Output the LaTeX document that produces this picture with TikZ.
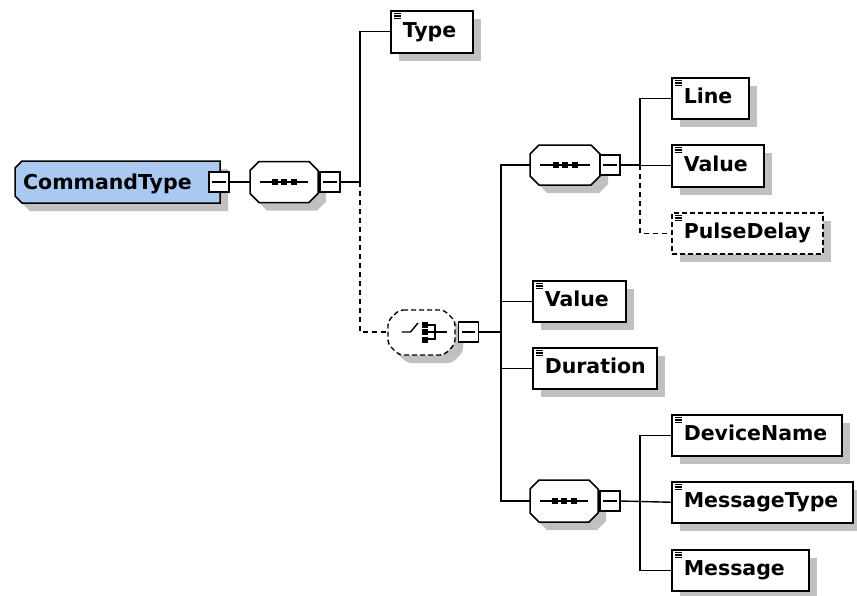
\documentclass[tikz,border=0pt]{standalone}
\usepackage{fontspec}
\setmainfont{DejaVu Sans}
\usetikzlibrary{shadows}
\definecolor{cmdblue}{RGB}{170,201,241}
\definecolor{shadowgray}{RGB}{192,192,192}
\newcommand\lblfont{\fontsize{20.5}{21}\selectfont\bfseries}
\tikzset{
  x=1pt,y=-1pt,
  shad/.style={drop shadow={shadow xshift=8pt,shadow yshift=-8pt,fill=shadowgray,opacity=1}},
  elembox/.style={draw,line width=1.5pt,fill=white,anchor=north west,font=\lblfont,
    align=left,inner xsep=12pt,inner ysep=0pt,text height=15.5pt,text depth=4.5pt,shad},
  conn/.style={line width=1.4pt},
  dconn/.style={line width=1.4pt,dash pattern=on 5pt off 4pt},
  dashbox/.style={dash pattern=on 5pt off 3pt},
  minusbox/.style={draw,line width=1.5pt,fill=white,minimum size=20pt,inner sep=0pt},
  anchorbox/.style={draw=none,fill=none,inner sep=0pt,outer sep=0pt},
  outline/.style={line width=1.5pt},
  icon/.style={line width=1.3pt}
}
% octagon outline: x1,y1,x2,y2,chamfer
\newcommand\octpath[5]{(#1+#5,#2) -- (#3-#5,#2) -- (#3,#2+#5) -- (#3,#4-#5) -- (#3-#5,#4) -- (#1+#5,#4) -- (#1,#4-#5) -- (#1,#2+#5) -- cycle}
% left-chamfered outline
\newcommand\lchampath[5]{(#1+#5,#2) -- (#3,#2) -- (#3,#4) -- (#1+#5,#4) -- (#1,#4-#5) -- (#1,#2+#5) -- cycle}
\newcommand\seqsym[1]{%
  \draw[conn] ([xshift=10pt]#1.west) -- ([xshift=-10pt]#1.east);
  \foreach \dx in {-9.5,0,9.5}{\fill ([xshift=\dx pt]#1.center) +(-3,-3) rectangle +(3,3);}
}
\newcommand\minussym[1]{\draw[conn] ([xshift=4pt]#1.west) -- ([xshift=-4pt]#1.east);}
\newcommand\elemicon[1]{%
  \foreach \dy in {3.5,6,8.5}{\draw[icon] ([xshift=3.5pt,yshift=-\dy pt]#1.north west) -- ++(7pt,0pt);}
}
\begin{document}
\begin{tikzpicture}
\useasboundingbox[fill=white] (0,0) rectangle (857,595);

% ---------- shadows of compositors and root
\fill[shadowgray,xshift=8pt,yshift=-8pt] \lchampath{15}{161}{220}{203}{7};
\fill[shadowgray,xshift=8pt,yshift=-8pt] \octpath{250}{161.5}{318}{202.5}{9};
\fill[shadowgray,xshift=8pt,yshift=-8pt] \octpath{530}{145}{600}{185}{9};
\fill[shadowgray,xshift=8pt,yshift=-8pt] \octpath{530}{480}{598}{522}{9};
\fill[shadowgray,xshift=8pt,yshift=-8pt,rounded corners=4pt] \octpath{388}{310}{455}{355}{11};

% ---------- root
\filldraw[outline,fill=cmdblue] \lchampath{15}{161}{220}{203}{7};
\node[anchorbox,minimum width=205pt,minimum height=42pt] (cmd) at (117.5,182) {};
\node[anchor=base west,font=\lblfont,inner sep=0pt] (cmdtext) at (23,189) {CommandType};
\node[minusbox] (cmdm) at (219,182) {};
\minussym{cmdm}

% ---------- sequence 1
\filldraw[outline,fill=white] \octpath{250}{161.5}{318}{202.5}{9};
\node[anchorbox,minimum width=68pt,minimum height=41pt] (seq1) at (284,182) {};
\seqsym{seq1}
\node[minusbox] (seq1m) at (330,182) {};
\minussym{seq1m}
\coordinate (j1) at (360,182);

% ---------- Type
\node[elembox,minimum width=82pt,minimum height=42pt,text width=58pt] (type) at (390,10) {Type};
\elemicon{type}

% ---------- choice
\filldraw[outline,fill=white,dashbox,line width=1.4pt,rounded corners=4pt] \octpath{388}{310}{455}{355}{11};
\node[anchorbox,minimum width=67pt,minimum height=45pt] (choice) at (421.5,332) {};
\node[minusbox] (choicem) at (468.5,332) {};
\minussym{choicem}
\draw[conn] (401.5,332) -- (410.5,332) -- (418,323);
\foreach \yy in {321.5,329,336.5}{\fill (421.5,\yy) rectangle (427.5,\yy+6);}
\draw[conn] (427,325) -- (435,325) -- (435,339) -- (427,339);
\draw[conn] (427,332) -- (447,332);
\coordinate (j2) at (501,332);

% ---------- sequence 2
\filldraw[outline,fill=white] \octpath{530}{145}{600}{185}{9};
\node[anchorbox,minimum width=70pt,minimum height=40pt] (seq2) at (565,165) {};
\seqsym{seq2}
\node[minusbox] (seq2m) at (610,165) {};
\minussym{seq2m}
\coordinate (j3) at (640,165);

\node[elembox,minimum width=77pt,minimum height=41pt,text width=53pt] (line) at (671,77) {Line};
\elemicon{line}
\node[elembox,minimum width=92pt,minimum height=42pt,text width=68pt] (value1) at (671,144) {Value};
\elemicon{value1}
\node[elembox,dashbox,minimum width=151pt,minimum height=41pt,text width=127pt] (pulse) at (671,212) {PulseDelay};
\elemicon{pulse}

% ---------- Value / Duration
\node[elembox,minimum width=93pt,minimum height=41pt,text width=69pt] (value2) at (532,280) {Value};
\elemicon{value2}
\node[elembox,minimum width=124pt,minimum height=41pt,text width=100pt] (duration) at (532,347) {Duration};
\elemicon{duration}

% ---------- sequence 3
\filldraw[outline,fill=white] \octpath{530}{480}{598}{522}{9};
\node[anchorbox,minimum width=68pt,minimum height=42pt] (seq3) at (564,501) {};
\seqsym{seq3}
\node[minusbox] (seq3m) at (610,501) {};
\minussym{seq3m}
\coordinate (j4) at (640,501);

\node[elembox,minimum width=170pt,minimum height=41pt,text width=146pt] (devname) at (671,414) {DeviceName};
\elemicon{devname}
\node[elembox,minimum width=181pt,minimum height=41pt,text width=157pt] (msgtype) at (671,481) {MessageType};
\elemicon{msgtype}
\node[elembox,minimum width=137pt,minimum height=41pt,text width=113pt] (message) at (671,549) {Message};
\elemicon{message}

% ---------- connectors
\draw[conn] (cmdm.east) -- (seq1.west);
\draw[conn] (seq1m.east) -- (j1);
\draw[conn] (j1) |- (type.west);
\draw[dconn] (j1) |- (choice.west);
\draw[conn] (choicem.east) -- (j2);
\draw[conn] (seq2.west) -- (seq2.west -| j2) -- (seq3.west -| j2) -- (seq3.west);
\draw[conn] (value2.west -| j2) -- (value2.west);
\draw[conn] (duration.west -| j2) -- (duration.west);
\draw[conn] (seq2m.east) -- (j3);
\draw[conn] (line.west) -| (j3);
\draw[conn] (value1.west -| j3) -- (value1.west);
\draw[dconn] (j3) |- (pulse.west);
\draw[conn] (seq3m.east) -- (msgtype.west);
\draw[conn] (devname.west) -| (j4) |- (message.west);
\end{tikzpicture}
\end{document}
